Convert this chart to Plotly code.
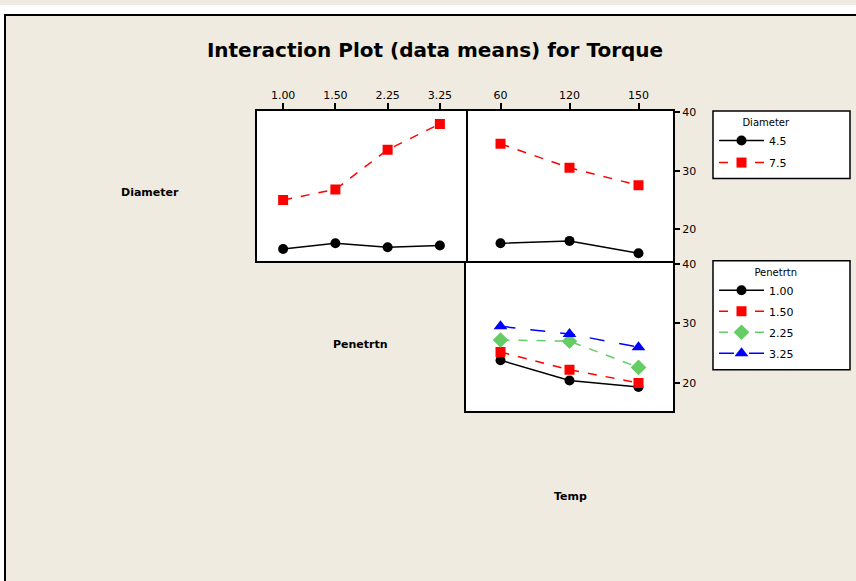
import plotly.graph_objects as go

W, H = 856, 581

# ---- data (means) ----
pen_levels = ["1.00", "1.50", "2.25", "3.25"]
temp_levels = ["60", "120", "150"]

diam45_by_pen = [16.6, 17.6, 16.9, 17.2]
diam75_by_pen = [25.0, 26.8, 33.6, 38.0]

diam45_by_temp = [17.6, 18.0, 15.9]
diam75_by_temp = [34.6, 30.5, 27.5]

pen100_by_temp = [23.8, 20.4, 19.3]
pen150_by_temp = [25.2, 22.2, 20.0]
pen225_by_temp = [27.2, 27.0, 22.6]
pen325_by_temp = [29.5, 28.2, 26.0]

BEIGE = "#EFEBE0"
FONT = "DejaVu Sans"


def px(x):
    return x / W


def py(y):
    return 1 - y / H


fig = go.Figure()

# Panel 1: Diameter lines vs Penetrtn
fig.add_trace(go.Scatter(x=pen_levels, y=diam45_by_pen, name="4.5", mode="lines+markers",
                         line=dict(color="black", width=1.5),
                         marker=dict(symbol="circle", size=10, color="black"),
                         xaxis="x", yaxis="y", legend="legend", legendgroup="d1"))
fig.add_trace(go.Scatter(x=pen_levels, y=diam75_by_pen, name="7.5", mode="lines+markers",
                         line=dict(color="#FF0000", width=1.5, dash="dash"),
                         marker=dict(symbol="square", size=10, color="#FF0000"),
                         xaxis="x", yaxis="y", legend="legend", legendgroup="d2"))
# Panel 2: Diameter lines vs Temp
fig.add_trace(go.Scatter(x=temp_levels, y=diam45_by_temp, name="4.5", mode="lines+markers",
                         line=dict(color="black", width=1.5),
                         marker=dict(symbol="circle", size=10, color="black"),
                         xaxis="x2", yaxis="y2", showlegend=False))
fig.add_trace(go.Scatter(x=temp_levels, y=diam75_by_temp, name="7.5", mode="lines+markers",
                         line=dict(color="#FF0000", width=1.5, dash="dash"),
                         marker=dict(symbol="square", size=10, color="#FF0000"),
                         xaxis="x2", yaxis="y2", showlegend=False))
# Panel 3: Penetrtn lines vs Temp
pen_series = [
    ("1.00", pen100_by_temp, "black", "solid", "circle", 10),
    ("1.50", pen150_by_temp, "#FF0000", "dash", "square", 10),
    ("2.25", pen225_by_temp, "#66CC66", "dash", "diamond", 12),
    ("3.25", pen325_by_temp, "#0000FF", "longdash", "triangle-up", 12),
]
for i, (nm, vals, col, dash, sym, sz) in enumerate(pen_series):
    fig.add_trace(go.Scatter(x=temp_levels, y=vals, name=nm, mode="lines+markers",
                             line=dict(color=col, width=1.5, dash=dash),
                             marker=dict(symbol=sym, size=sz, color=col),
                             xaxis="x3", yaxis="y3", legend="legend2", legendgroup="p%d" % i))

base = dict(showgrid=False, zeroline=False, showline=True, linecolor="black",
            linewidth=2, fixedrange=True)
tickfont = dict(family=FONT, size=11, color="black")

fig.update_layout(
    width=W, height=H,
    margin=dict(l=0, r=0, t=0, b=0),
    paper_bgcolor=BEIGE,
    plot_bgcolor="white",
    font=dict(family=FONT, color="black"),
    title=dict(text="<b>Interaction Plot (data means) for Torque</b>",
               x=px(435), y=py(50), xanchor="center", yanchor="middle",
               font=dict(family=FONT, size=20, color="black")),
    xaxis=dict(domain=[px(257), px(466)], anchor="y", side="top", type="category",
               range=[-0.5, 3.5], ticks="outside", ticklen=6, tickwidth=1.5,
               tickcolor="black", tickfont=tickfont, mirror=True, **base),
    yaxis=dict(domain=[py(258), py(107)], anchor="x", range=[14.6, 40.2],
               showticklabels=False, ticks="", mirror=True, **base),
    xaxis2=dict(domain=[px(466), px(673)], anchor="y2", side="top", type="category",
                range=[-0.5, 2.5], ticks="outside", ticklen=6, tickwidth=1.5,
                tickcolor="black", tickfont=tickfont, mirror=True, **base),
    yaxis2=dict(domain=[py(258), py(107)], anchor="x2", side="right", range=[14.6, 40.2],
                tickvals=[20, 30, 40], ticks="outside", ticklen=5, tickwidth=1.5,
                tickcolor="black", tickfont=tickfont, mirror=False, **base),
    xaxis3=dict(domain=[px(466), px(673)], anchor="y3", type="category",
                range=[-0.5, 2.5], showticklabels=False, ticks="", mirror=False, **base),
    yaxis3=dict(domain=[py(410), py(258)], anchor="x3", side="right", range=[15.2, 40.5],
                tickvals=[20, 30, 40], ticks="outside", ticklen=5, tickwidth=1.5,
                tickcolor="black", tickfont=tickfont, mirror=True, **base),
    legend=dict(x=px(714), y=py(109), xanchor="left", yanchor="top",
                bgcolor="rgba(0,0,0,0)", borderwidth=0, itemwidth=45,
                tracegroupgap=3, font=dict(family=FONT, size=11),
                title=dict(text="Diameter", side="top right",
                           font=dict(family=FONT, size=10))),
    legend2=dict(x=px(714), y=py(260), xanchor="left", yanchor="top",
                 bgcolor="rgba(0,0,0,0)", borderwidth=0, itemwidth=45,
                 tracegroupgap=2, font=dict(family=FONT, size=11),
                 title=dict(text="Penetrtn", side="top right",
                            font=dict(family=FONT, size=10))),
    showlegend=True,
)

shapes = [
    # white strips of the outer frame
    dict(type="rect", xref="paper", yref="paper", x0=0, x1=1, y0=py(9), y1=1,
         fillcolor="white", line=dict(width=0), layer="below"),
    dict(type="rect", xref="paper", yref="paper", x0=0, x1=px(4), y0=0, y1=1,
         fillcolor="white", line=dict(width=0), layer="below"),
    dict(type="line", xref="paper", yref="paper", x0=px(4), x1=1, y0=py(10), y1=py(10),
         line=dict(color="black", width=2)),
    dict(type="line", xref="paper", yref="paper", x0=px(5), x1=px(5), y0=0, y1=py(10),
         line=dict(color="black", width=2)),
    # legend boxes
    dict(type="rect", xref="paper", yref="paper", x0=px(713), x1=px(850), y0=py(175), y1=py(107),
         fillcolor="white", line=dict(color="black", width=1.5), layer="below"),
    dict(type="rect", xref="paper", yref="paper", x0=px(713), x1=px(850), y0=py(368), y1=py(258),
         fillcolor="white", line=dict(color="black", width=1.5), layer="below"),
]
fig.update_layout(shapes=shapes)

labfont = dict(family=FONT, size=11, color="black")
for txt, lx, ly in [("Diameter", 150, 189), ("Penetrtn", 360, 342), ("Temp", 570, 496)]:
    fig.add_annotation(text="<b>%s</b>" % txt, x=px(lx), y=py(ly), xref="paper", yref="paper",
                       xanchor="center", yanchor="middle", showarrow=False, font=labfont)

fig.write_html("out.html")
